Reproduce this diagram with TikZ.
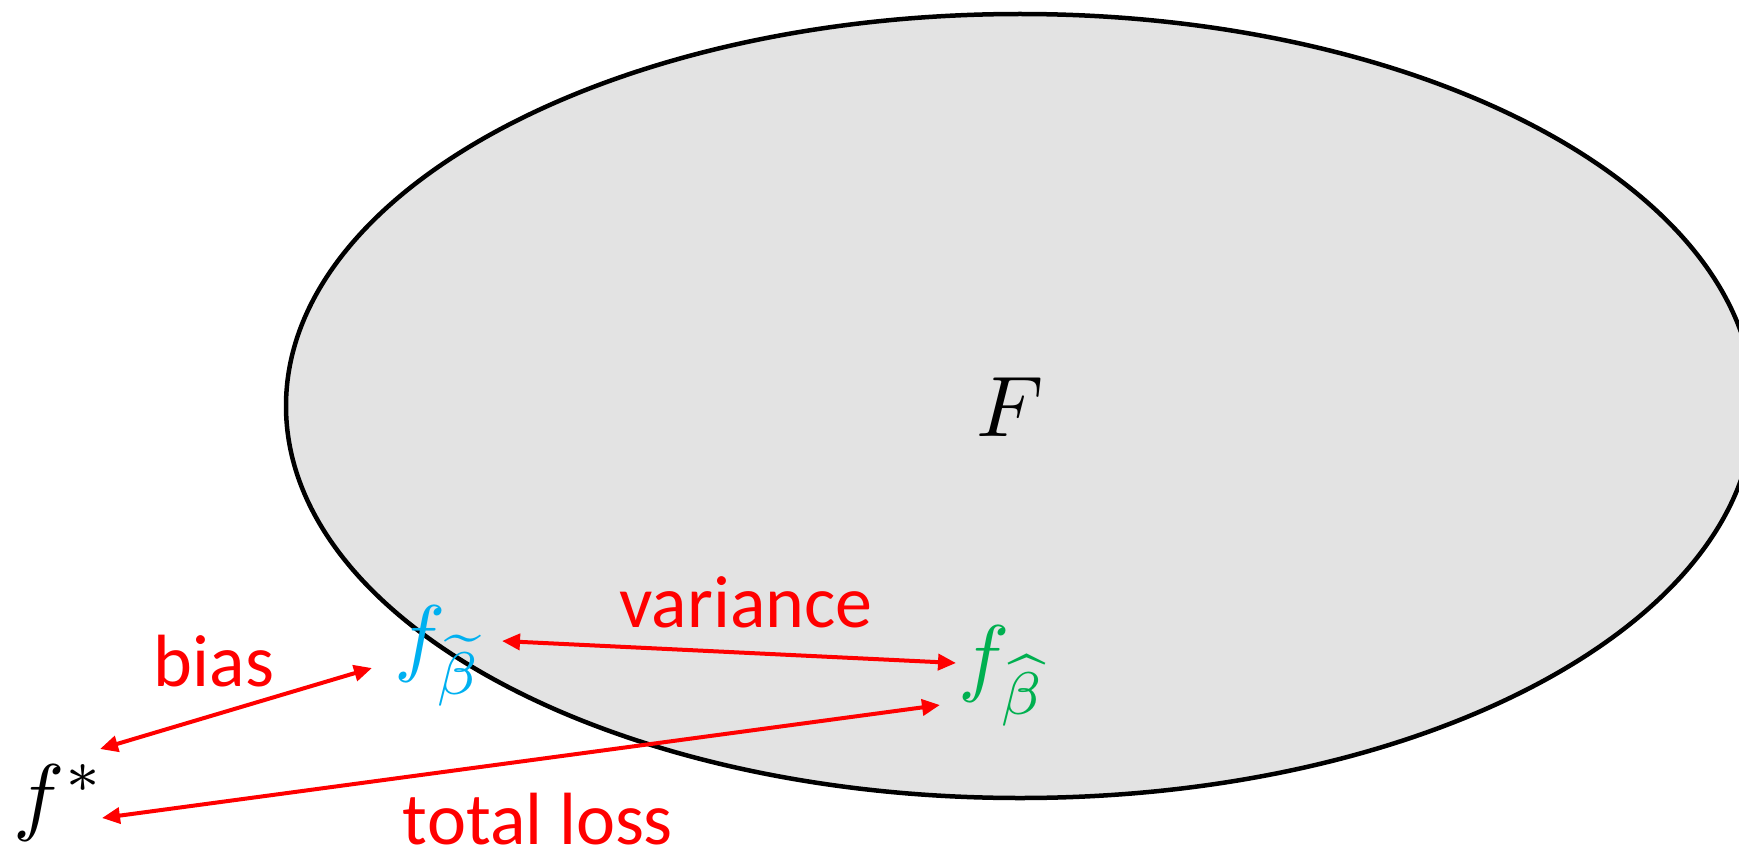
\documentclass[tikz,border=0pt]{standalone}
\usepackage{fontspec}
\usepackage{amsmath}
\newfontfamily\calib{Carlito}
\usetikzlibrary{arrows.meta}
\definecolor{setgray}{RGB}{227,227,227}
\definecolor{tblue}{RGB}{0,176,240}
\definecolor{hgreen}{RGB}{0,176,80}
\definecolor{lred}{RGB}{255,0,0}
\tikzset{
  lbl/.style={text=lred, inner sep=0pt, font=\calib\fontsize{74}{80}\selectfont},
  mth/.style={inner sep=0pt, anchor=base west, scale=8.6, font=\fontsize{10}{12}\selectfont},
  conn/.style={draw=lred, line width=4pt, {Triangle[length=18pt,width=16pt]}-{Triangle[length=18pt,width=16pt]}}
}
\begin{document}
\begin{tikzpicture}[x=1pt,y=-1pt]
\useasboundingbox (0,0) rectangle (1739,845);
\begin{scope}
  \clip (0,0) rectangle (1739,845);
  \draw[fill=setgray, line width=4.5pt] (1020,406) ellipse [x radius=734pt, y radius=392pt];
\end{scope}
\node[mth, anchor=base] (F) at (1010,436) {$F$};
\node[mth] (fstar) at (12,824) {$f^{*}$};
\node[mth, text=tblue] (ftilde) at (393,665) {$f_{\widetilde{\beta}}$};
\node[mth, text=hgreen] (fhat) at (957,685) {$f_{\widehat{\beta}}$};
\coordinate (b1) at (100,749);
\coordinate (b2) at (372,668);
\coordinate (v1) at (502,641);
\coordinate (v2) at (956,663);
\coordinate (t1) at (102,818);
\coordinate (t2) at (940,705);
\draw[conn] (b1) -- (b2);
\draw[conn] (v1) -- (v2);
\draw[conn] (t1) -- (t2);
\node[lbl] (bias) at (214,661) {bias};
\node[lbl] (var) at (746,602) {variance};
\node[lbl] (tl) at (538,819) {total loss};
\end{tikzpicture}
\end{document}
